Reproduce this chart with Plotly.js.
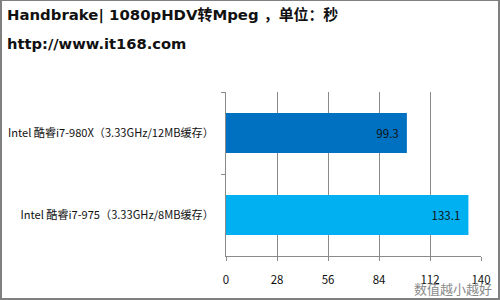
<!DOCTYPE html>
<html>
<head>
<meta charset="utf-8">
<script src="https://cdn.plot.ly/plotly-3.0.1.min.js"></script>
<style>
  html, body { margin: 0; padding: 0; background: #fff; }
  #wrap { position: relative; width: 500px; height: 300px; }
  #chart { position: absolute; left: 0; top: 0; width: 500px; height: 300px; }
  #frame { position: absolute; left: 0; top: 0; width: 500px; height: 300px; box-sizing: border-box;
           border-style: solid; border-color: #808080; border-width: 1px 2px 2px 2px; pointer-events: none; }
</style>
</head>
<body>
<div id="wrap">
  <div id="chart"></div>
  <div id="frame"></div>
</div>
<script>
// Handbrake 1080p HDV -> MPEG encode time, seconds (lower is better)
const categories = [
  "Intel 酷睿i7-980X（3.33GHz/12MB缓存）",
  "Intel 酷睿i7-975（3.33GHz/8MB缓存）"
];
const seconds = [99.3, 133.1];
const barColors = ["#0070C0", "#00B0F0"];
const xTicks = [0, 28, 56, 84, 112, 140];
const titleLine1 = "Handbrake| 1080pHDV转Mpeg ，单位：秒";
const titleLine2 = "http://www.it168.com";
const note = "数值越小越好";

const W = 500, H = 300;
const M = { l: 226, r: 19, t: 92, b: 44 };
const plotW = W - M.l - M.r, plotH = H - M.t - M.b;
// pixel position on the page -> paper coordinates
const px = x => (x - M.l) / plotW;
const py = y => 1 - (y - M.t) / plotH;

const TITLE_FONT = "'DejaVu Sans', 'Noto Sans CJK SC', sans-serif";
const CJK = "'Noto Sans CJK SC', 'Liberation Sans', sans-serif";
const NBSP = "\u00a0";

const trace = {
  type: "bar",
  orientation: "h",
  y: categories,
  x: seconds,
  marker: { color: barColors },
  text: seconds.map(v => v.toFixed(1)),
  texttemplate: "%{text}" + NBSP + NBSP,
  textposition: "inside",
  insidetextanchor: "end",
  textfont: { family: CJK, size: 11.5, color: "#111" },
  hoverinfo: "skip"
};

const layout = {
  width: W, height: H,
  margin: M,
  paper_bgcolor: "#fff",
  plot_bgcolor: "#fff",
  showlegend: false,
  bargap: 0.51,
  font: { family: CJK, size: 11, color: "#111" },
  xaxis: {
    range: [0, 140],
    tickvals: xTicks,
    ticktext: xTicks.map(String),
    showgrid: true, gridcolor: "#8a8a8a", gridwidth: 1,
    showline: true, linecolor: "#8a8a8a", linewidth: 1,
    ticks: "outside", ticklen: 4, tickcolor: "#8a8a8a",
    ticklabelstandoff: 9,
    zeroline: false,
    tickfont: { family: CJK, size: 11.5, color: "#111" },
    fixedrange: true
  },
  yaxis: {
    type: "category",
    autorange: "reversed",
    showgrid: false,
    showline: true, linecolor: "#8a8a8a", linewidth: 1,
    ticks: "outside", ticklen: 4, tickcolor: "#8a8a8a",
    tickson: "boundaries",
    ticklabelstandoff: 9,
    tickfont: { family: CJK, size: 11.1, color: "#111" },
    fixedrange: true
  },
  annotations: [
    { text: "<b>" + titleLine1 + "</b>", xref: "paper", yref: "paper",
      x: px(5), y: py(15), xanchor: "left", yanchor: "middle", showarrow: false,
      font: { family: TITLE_FONT, size: 14.9, color: "#111" } },
    { text: "<b>" + titleLine2 + "</b>", xref: "paper", yref: "paper",
      x: px(5), y: py(44), xanchor: "left", yanchor: "middle", showarrow: false,
      font: { family: TITLE_FONT, size: 14.7, color: "#111" } },
    { text: note, xref: "paper", yref: "paper",
      x: px(494), y: py(288), xanchor: "right", yanchor: "middle", showarrow: false,
      font: { family: CJK, size: 13, color: "#8a8a8a" } }
  ]
};

Plotly.newPlot("chart", [trace], layout, { displayModeBar: false, staticPlot: true });
</script>
</body>
</html>
